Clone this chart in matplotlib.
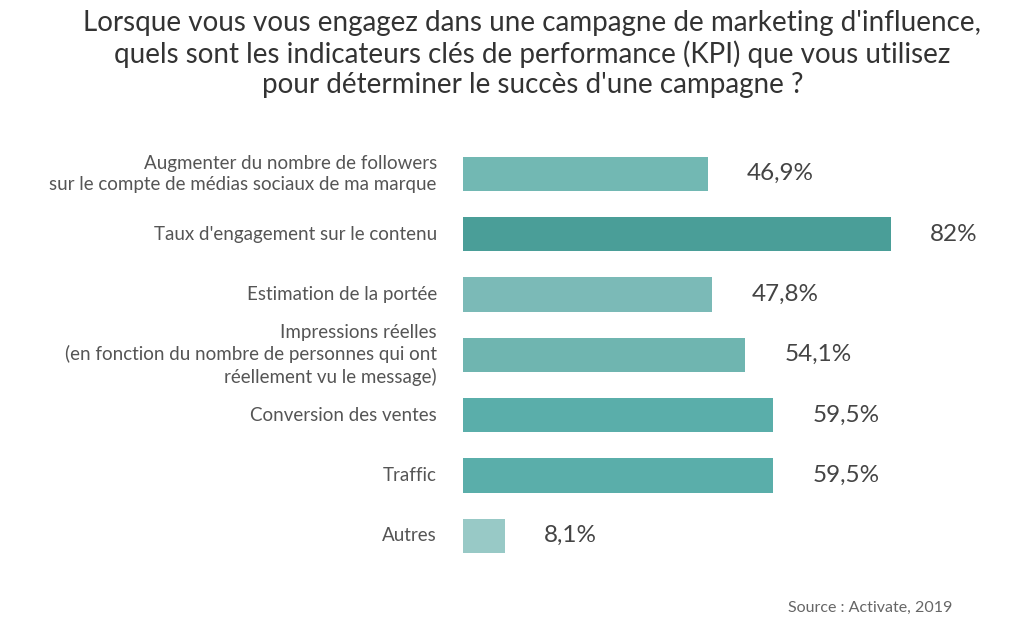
import matplotlib.pyplot as plt

categories = [
    "Augmenter du nombre de followers\nsur le compte de médias sociaux de ma marque",
    "Taux d'engagement sur le contenu",
    "Estimation de la portée",
    "Impressions réelles\n(en fonction du nombre de personnes qui ont\nréellement vu le message)",
    "Conversion des ventes",
    "Traffic",
    "Autres",
]
values = [46.9, 82, 47.8, 54.1, 59.5, 59.5, 8.1]
labels = ["46,9%", "82%", "47,8%", "54,1%", "59,5%", "59,5%", "8,1%"]
colors = ["#72b8b3", "#4a9e98", "#7bbab7", "#6fb5b0", "#5aaeaa", "#5aaeaa", "#98c9c6"]

plt.rcParams["font.family"] = "Lato"
fig = plt.figure(figsize=(10.24, 6.37), dpi=100)
ax = fig.add_axes([0.452, 0.121, 0.525, 0.644])

ypos = range(len(values))
ax.barh(ypos, values, height=0.57, color=colors)
for y, v, t in zip(ypos, values, labels):
    ax.text(v + 7.5, y, t, va="center", ha="left", fontsize=17.5, color="#444444")
    ax.text(-5, y, categories[y], va="center", ha="right", fontsize=13.5,
            color="#555555", linespacing=1.3)

ax.set_xlim(0, 103)
ax.set_ylim(6.4, -0.4)
ax.axis("off")

fig.text(0.52, 0.985, "Lorsque vous vous engagez dans une campagne de marketing d'influence,\n"
         "quels sont les indicateurs clés de performance (KPI) que vous utilisez\n"
         "pour déterminer le succès d'une campagne ?",
         ha="center", va="top", fontsize=20, color="#333333", linespacing=1.2)
fig.text(0.93, 0.045, "Source : Activate, 2019", ha="right", va="center",
         fontsize=11.5, color="#666666")

fig.savefig("out.png", dpi=100)
